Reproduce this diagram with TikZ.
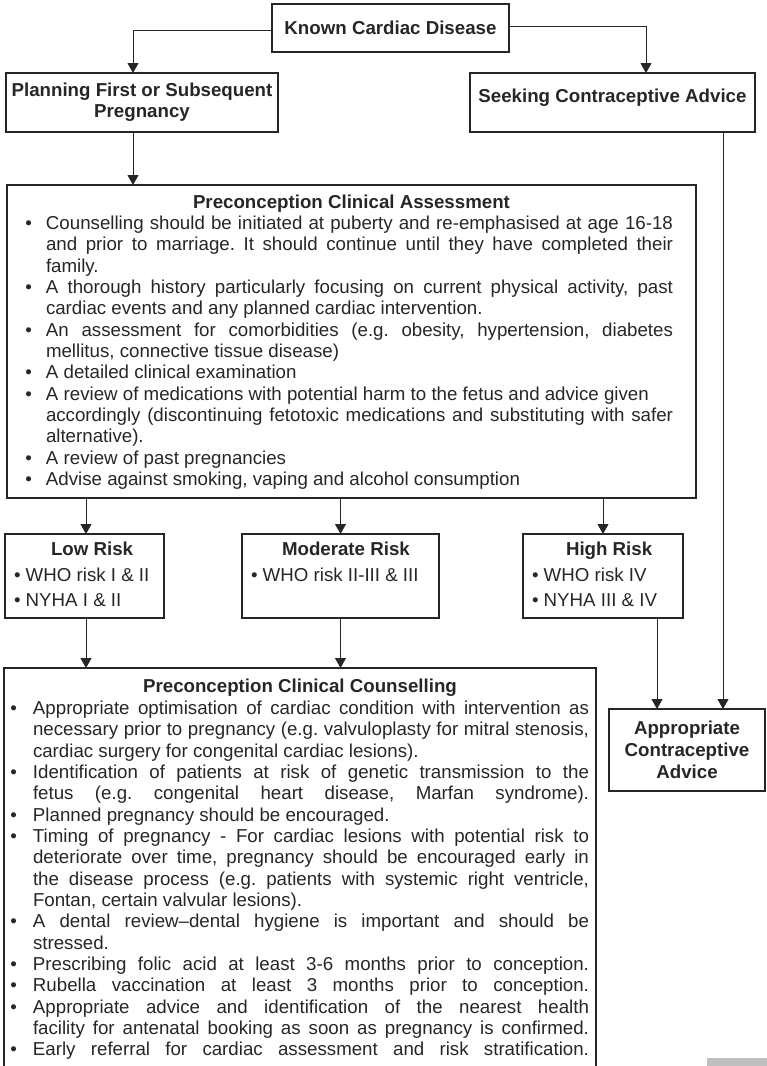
\documentclass[tikz,border=0pt]{standalone}
\usepackage{fontspec}
\setmainfont{Liberation Sans}
\usetikzlibrary{arrows.meta, positioning}
\definecolor{ink}{HTML}{262626}
\newcommand{\normsp}{\spaceskip=0pt\xspaceskip=0pt\frenchspacing}
\newcommand{\jl}[1]{\makebox[\hsize][s]{\frenchspacing\spaceskip=.278em plus 1fil\relax#1}}
\newcommand{\itm}[1][14pt]{\leavevmode\llap{\textbullet\hspace{#1}}}

\begin{document}
\begin{tikzpicture}[x=1pt, y=-1pt]
	\tikzstyle{Box} = [rectangle, draw=ink, line width=1.4pt, outer sep=0pt, inner sep=0pt, text=ink, align=center, font=\bfseries\fontsize{18.7}{21}\selectfont]
	\tikzstyle{Risk} = [rectangle, draw=ink, line width=1.4pt, outer sep=0pt, inner xsep=9pt, inner ysep=0pt, anchor=north west, text=ink, align=left, font=\fontsize{18.7}{25.5}\selectfont]
	\tikzstyle{List} = [anchor=north west, inner sep=0pt, outer sep=0pt, text=ink, align=left, font=\fontsize{18.7}{21.33}\selectfont]
	\tikzstyle{arrow} = [line width=0.9pt, draw=ink, ->, >={Triangle[length=10pt, width=11pt]}]
	
	\useasboundingbox (0,0) rectangle (767,1066);
	\clip (0,0) rectangle (767,1066);
	
	% top row
	\node (known) [Box, minimum width=237pt, minimum height=48pt] at (390.5,28) {Known Cardiac Disease};
	\node (plan) [Box, minimum width=272pt, minimum height=59pt] at (142,102.5) {Planning First or Subsequent\\Pregnancy};
	\node (seek) [Box, minimum width=285pt, minimum height=59pt, text depth=13pt] at (612.5,102.5) {Seeking Contraceptive Advice};
	
	% assessment
	\node (assess) [Box, minimum width=689pt, minimum height=313pt] at (351.5,341.5) {};
	\node (assesstitle) [List, anchor=base] at (351.5,208.6) {\textbf{Preconception Clinical Assessment}};
	\node (assesslist) [List, text width=627pt] at (46,214.7) {\normsp
		\itm\strut\jl{Counselling should be initiated at puberty and re-emphasised at age 16-18}\\
		\jl{and prior to marriage. It should continue until they have completed their}\\
		family.\\
		\itm\jl{A thorough history particularly focusing on current physical activity, past}\\
		cardiac events and any planned cardiac intervention.\\
		\itm\jl{An assessment for comorbidities (e.g. obesity, hypertension, diabetes}\\
		mellitus, connective tissue disease)\\
		\itm A detailed clinical examination\\
		\itm A review of medications with potential harm to the fetus and advice given\\
		\jl{accordingly (discontinuing fetotoxic medications and substituting with safer}\\
		alternative).\\
		\itm A review of past pregnancies\\
		\itm Advise against smoking, vaping and alcohol consumption};
	
	% risk groups
	\node (low) [Risk, minimum width=159pt, minimum height=84pt, text width=141pt] at (5,534) {\normsp
		\strut\hspace*{37pt}\textbf{Low Risk}\\
		\textbullet{} WHO risk I \& II\\
		\textbullet{} NYHA I \& II\strut};
	\node (moderate) [Risk, minimum width=197pt, minimum height=84pt, text width=179pt] at (242,534) {\normsp
		\strut\hspace*{31pt}\textbf{Moderate Risk}\\
		\textbullet{} WHO risk II-III \& III\\
		\strut};
	\node (high) [Risk, minimum width=160pt, minimum height=84pt, text width=142pt] at (523,534) {\normsp
		\strut\hspace*{34pt}\textbf{High Risk}\\
		\textbullet{} WHO risk IV\\
		\textbullet{} NYHA III \& IV\strut};
	
	% counselling
	\node (counsel) [Box, minimum width=592pt, minimum height=450pt, anchor=north west] at (4,668) {};
	\node (counseltitle) [List, anchor=base] at (300,692.6) {\textbf{Preconception Clinical Counselling}};
	\node (counsellist) [List, text width=556pt] at (33,699.7) {\normsp
		\itm[16pt]\strut\jl{Appropriate optimisation of cardiac condition with intervention as}\\
		\jl{necessary prior to pregnancy (e.g. valvuloplasty for mitral stenosis,}\\
		cardiac surgery for congenital cardiac lesions).\\
		\itm[16pt]\jl{Identification of patients at risk of genetic transmission to the}\\
		\jl{fetus (e.g. congenital heart disease, Marfan syndrome).}\\
		\itm[16pt]Planned pregnancy should be encouraged.\\
		\itm[16pt]\jl{Timing of pregnancy - For cardiac lesions with potential risk to}\\
		\jl{deteriorate over time, pregnancy should be encouraged early in}\\
		\jl{the disease process (e.g. patients with systemic right ventricle,}\\
		Fontan, certain valvular lesions).\\
		\itm[16pt]\jl{A dental review–dental hygiene is important and should be}\\
		stressed.\\
		\itm[16pt]\jl{Prescribing folic acid at least 3-6 months prior to conception.}\\
		\itm[16pt]\jl{Rubella vaccination at least 3 months prior to conception.}\\
		\itm[16pt]\jl{Appropriate advice and identification of the nearest health}\\
		\jl{facility for antenatal booking as soon as pregnancy is confirmed.}\\
		\itm[16pt]\jl{Early referral for cardiac assessment and risk stratification.}};
	
	\node (advice) [Box, minimum width=156pt, minimum height=82pt, font=\bfseries\fontsize{18.7}{22}\selectfont] at (687,750) {Appropriate\\Contraceptive\\Advice};
	
	% connectors
	\draw [arrow] ([yshift=-2pt]known.west) -| ([xshift=-9pt]plan.north);
	\draw [arrow] ([yshift=2pt]known.east) -| ([xshift=33.5pt]seek.north);
	\draw [arrow] ([xshift=-9pt]plan.south) -- ([xshift=-9pt]plan.south |- assess.north);
	\draw [arrow] ([xshift=110.5pt]seek.south) -- ([xshift=110.5pt]seek.south |- advice.north);
	\draw [arrow] ([xshift=1.5pt]low.north |- assess.south) -- ([xshift=1.5pt]low.north);
	\draw [arrow] (moderate.north |- assess.south) -- (moderate.north);
	\draw [arrow] (high.north |- assess.south) -- (high.north);
	\draw [arrow] ([xshift=1.5pt]low.south) -- ([xshift=1.5pt]low.south |- counsel.north);
	\draw [arrow] (moderate.south) -- (moderate.south |- counsel.north);
	\draw [arrow] ([xshift=54pt]high.south) -- ([xshift=54pt]high.south |- advice.north);
	
	\fill [black!25] (707,1058) rectangle (767,1066);
\end{tikzpicture}
\end{document}
